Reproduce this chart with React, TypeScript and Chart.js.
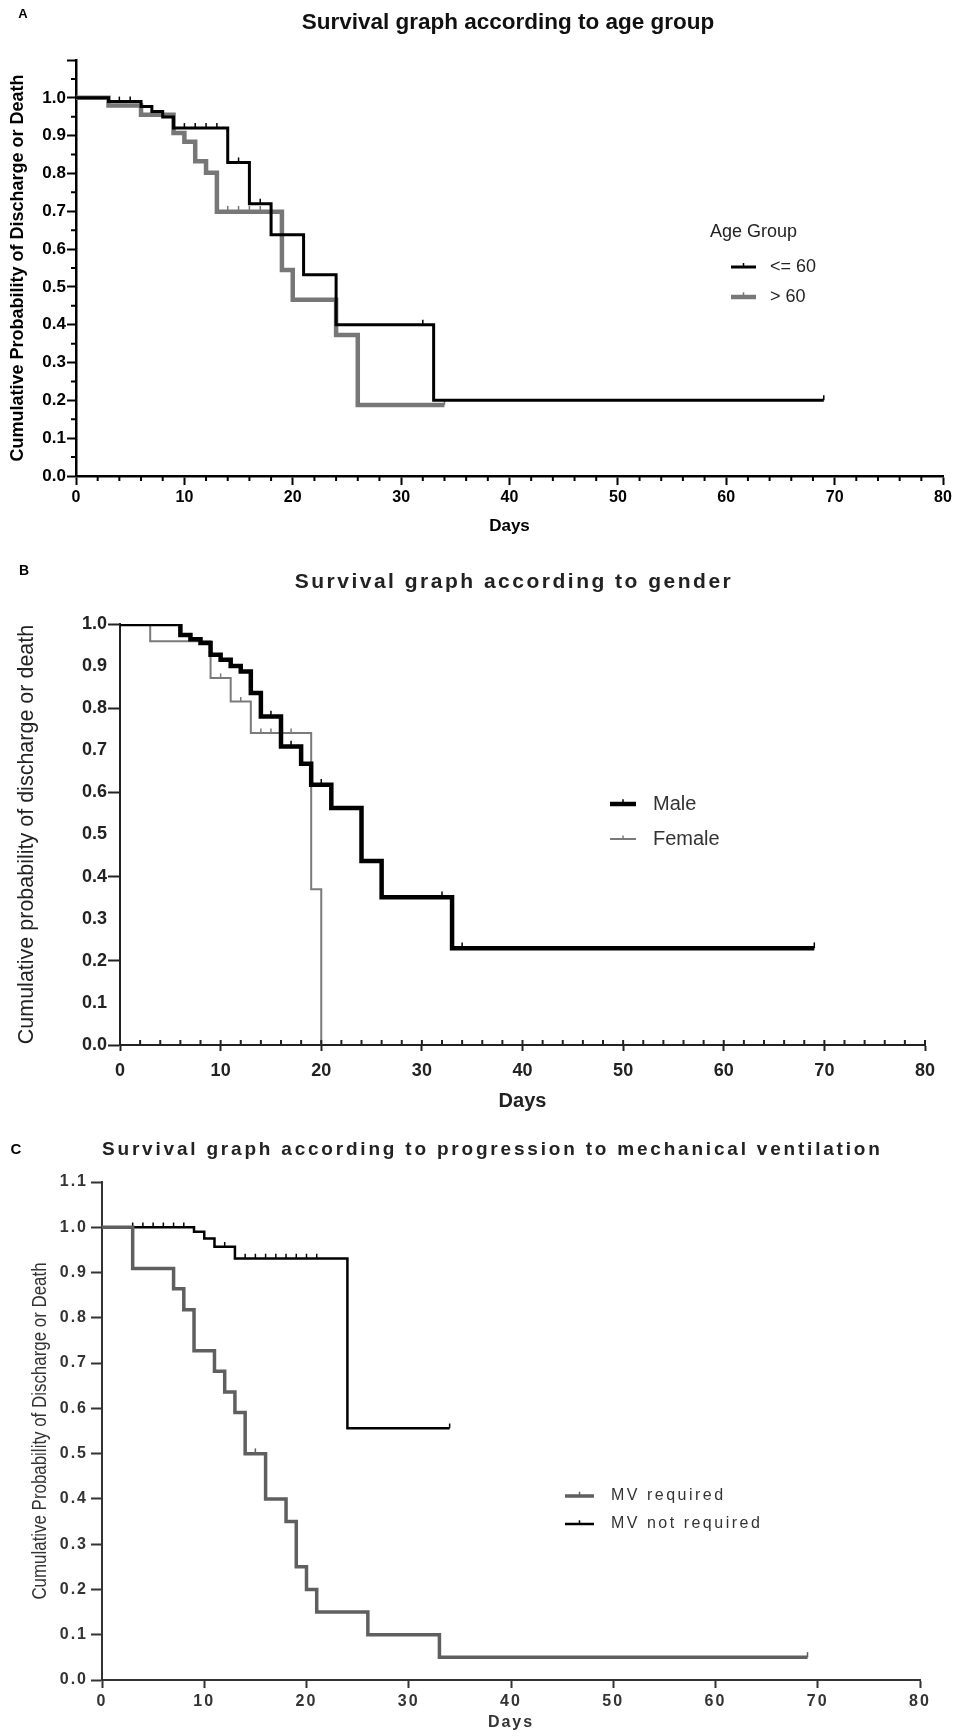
import React, { useEffect, useRef } from "react";
import { Chart, registerables } from "chart.js";

Chart.register(...registerables);

const FONT = "'Liberation Sans', Arial, Helvetica, sans-serif";

// ---------------- shared axis ticks ----------------
const dayTicks = [0, 10, 20, 30, 40, 50, 60, 70, 80];
const dayTickLabels = ["0", "10", "20", "30", "40", "50", "60", "70", "80"];

// ---------------- Panel A : age group ----------------
const ageLe60Days = [0, 3, 6, 7, 8, 9, 14, 16, 18, 21, 24, 33, 69];
const ageLe60Surv = [1.0, 0.99, 0.977, 0.964, 0.949, 0.92, 0.829, 0.72, 0.638, 0.532, 0.4, 0.2, 0.2];
const ageLe60Censored = [4, 5, 10, 11, 12, 13, 15, 17, 32, 69];

const ageGt60Days = [0, 3, 6, 9, 10, 11, 12, 13, 19, 20, 24, 26, 34];
const ageGt60Surv = [1.0, 0.98, 0.955, 0.907, 0.884, 0.832, 0.802, 0.699, 0.545, 0.466, 0.373, 0.188, 0.188];
const ageGt60Censored = [14, 15, 16, 17, 34];

const probTicksA = [0, 0.1, 0.2, 0.3, 0.4, 0.5, 0.6, 0.7, 0.8, 0.9, 1.0, 1.1];
const probLabelsA = ["0.0", "0.1", "0.2", "0.3", "0.4", "0.5", "0.6", "0.7", "0.8", "0.9", "1.0", ""];

// ---------------- Panel B : gender ----------------
const maleDays = [0, 6, 7, 8, 9, 10, 11, 12, 13, 14, 16, 18, 19, 21, 24, 26, 33, 69];
const maleSurv = [1.0, 0.974, 0.964, 0.955, 0.927, 0.915, 0.9, 0.887, 0.836, 0.78, 0.709, 0.668, 0.618, 0.563, 0.437, 0.351, 0.23, 0.23];
const maleCensored = [4, 5, 15, 17, 20, 32, 34, 69];

const femaleDays = [0, 3, 9, 11, 13, 19, 20];
const femaleSurv = [1.0, 0.959, 0.872, 0.816, 0.741, 0.37, 0.0];
const femaleCensored = [10, 12, 14, 15, 17];

const probTicksB = [0, 0.1, 0.2, 0.3, 0.4, 0.5, 0.6, 0.7, 0.8, 0.9, 1.0];
const probLabelsB = ["0.0", "0.1", "0.2", "0.3", "0.4", "0.5", "0.6", "0.7", "0.8", "0.9", "1.0"];

// ---------------- Panel C : mechanical ventilation ----------------
const mvReqDays = [0, 3, 7, 8, 9, 11, 12, 13, 14, 16, 18, 19, 20, 21, 26, 33, 69];
const mvReqSurv = [1.0, 0.909, 0.864, 0.818, 0.727, 0.682, 0.636, 0.591, 0.5, 0.4, 0.35, 0.25, 0.2, 0.15, 0.1, 0.05, 0.05];
const mvReqCensored = [15, 69];

const mvNotDays = [0, 9, 10, 11, 13, 24, 34];
const mvNotSurv = [1.0, 0.99, 0.975, 0.957, 0.931, 0.556, 0.556];
const mvNotCensored = [3, 4, 5, 6, 7, 8, 12, 14, 15, 16, 17, 18, 19, 20, 21, 34];

const probTicksC = [0, 0.1, 0.2, 0.3, 0.4, 0.5, 0.6, 0.7, 0.8, 0.9, 1.0, 1.1];
const probLabelsC = ["0.0", "0.1", "0.2", "0.3", "0.4", "0.5", "0.6", "0.7", "0.8", "0.9", "1.0", "1.1"];

// ---------------- helpers ----------------
function stepValueAt(days: number[], surv: number[], t: number): number {
  let v = surv[0];
  for (let i = 0; i < days.length; i++) if (days[i] <= t) v = surv[i];
  return v;
}

type Series = {
  label: string;
  days: number[];
  surv: number[];
  censored: number[];
  color: string;
  width: number;
  order: number;
};

type Txt = {
  text: string;
  x: number;
  y: number;
  size: number;
  bold?: boolean;
  color?: string;
  align?: CanvasTextAlign;
  rotate?: number;
  spacing?: number;
  squeeze?: number;
};

type LegendItem = { ds: number; x1: number; x2: number; tx: number; y: number; size: number; color: string; spacing?: number };

type Minor = { axis: "x" | "y"; values: number[]; len: number; width: number; color: string };

type AxisStyle = {
  font: number;
  color: string;
  padding: number;
  tickLength: number;
  tickWidth: number;
  tickColor: string | ((c: any) => string);
};

type PanelSpec = {
  top: number;
  height: number;
  padding: { left: number; right: number; top: number; bottom: number };
  yWidth: number;
  xHeight: number;
  yMax: number;
  yTicks: number[];
  yLabels: string[];
  series: Series[];
  xAxis: AxisStyle;
  yAxis: AxisStyle;
  border: { color: string; width: number };
  xTitle: { text: string; size: number; color: string; padBottom: number };
  yTitle?: { text: string; size: number; bold: boolean; color: string; padTop: number };
  texts: Txt[];
  legend: LegendItem[];
  minor: Minor[];
  tickSpacing: number;
};

function makeDecor(spec: PanelSpec) {
  return {
    id: "decor",
    beforeDraw(chart: any) {
      chart.ctx.letterSpacing = spec.tickSpacing + "px";
    },
    afterDraw(chart: any) {
      const ctx: CanvasRenderingContext2D = chart.ctx;
      ctx.save();
      (ctx as any).letterSpacing = "0px";
      for (const m of spec.minor) {
        const sc = chart.scales[m.axis];
        ctx.strokeStyle = m.color;
        ctx.lineWidth = m.width;
        ctx.beginPath();
        for (const v of m.values) {
          const p = sc.getPixelForValue(v);
          if (m.axis === "x") {
            ctx.moveTo(p, sc.top);
            ctx.lineTo(p, sc.top + m.len);
          } else {
            ctx.moveTo(sc.right, p);
            ctx.lineTo(sc.right - m.len, p);
          }
        }
        ctx.stroke();
      }
      const drawText = (t: Txt) => {
        ctx.save();
        ctx.translate(t.x, t.y);
        if (t.rotate) ctx.rotate(t.rotate);
        if (t.squeeze) ctx.scale(t.squeeze, 1);
        ctx.font = `${t.bold ? "bold " : ""}${t.size}px ${FONT}`;
        ctx.fillStyle = t.color || "#000";
        ctx.textAlign = t.align || "left";
        ctx.textBaseline = "middle";
        (ctx as any).letterSpacing = (t.spacing || 0) + "px";
        ctx.fillText(t.text, 0, 0);
        ctx.restore();
      };
      spec.texts.forEach(drawText);
      for (const it of spec.legend) {
        const ds = chart.data.datasets[it.ds];
        ctx.strokeStyle = ds.borderColor;
        ctx.lineWidth = ds.borderWidth;
        ctx.lineCap = "butt";
        ctx.beginPath();
        ctx.moveTo(it.x1, it.y);
        ctx.lineTo(it.x2, it.y);
        ctx.stroke();
        const mx = (it.x1 + it.x2) / 2;
        ctx.lineWidth = 1.5;
        ctx.beginPath();
        ctx.moveTo(mx, it.y);
        ctx.lineTo(mx, it.y - ds.borderWidth / 2 - 2.5);
        ctx.stroke();
        drawText({ text: ds.label, x: it.tx, y: it.y, size: it.size, color: it.color, spacing: it.spacing });
      }
      ctx.restore();
      (ctx as any).letterSpacing = "0px";
    },
  };
}

function buildConfig(spec: PanelSpec): any {
  const datasets: any[] = [];
  spec.series.forEach((s) => {
    datasets.push({
      type: "line",
      label: s.label,
      data: s.days.map((d, k) => ({ x: d, y: s.surv[k] })),
      borderColor: s.color,
      borderWidth: s.width,
      stepped: true,
      pointRadius: 0,
      fill: false,
      order: s.order,
      borderCapStyle: "butt",
      borderJoinStyle: "miter",
    });
  });
  spec.series.forEach((s) => {
    datasets.push({
      type: "line",
      label: s.label + " (censored)",
      data: s.censored.map((t) => ({ x: t, y: stepValueAt(s.days, s.surv, t) })),
      showLine: false,
      pointStyle: "dash",
      pointRotation: -90,
      pointRadius: s.width / 2 + 3.5,
      pointBorderWidth: 1.5,
      pointBorderColor: s.color,
      pointBackgroundColor: s.color,
      order: s.order,
    });
  });

  const yScale: any = {
    type: "linear",
    min: 0,
    max: spec.yMax,
    afterBuildTicks: (sc: any) => {
      sc.ticks = spec.yTicks.map((v) => ({ value: v }));
    },
    afterFit: (sc: any) => {
      sc.width = spec.yWidth;
    },
    ticks: {
      callback: (_v: any, i: number) => spec.yLabels[i],
      font: { family: FONT, size: spec.yAxis.font, weight: "bold" },
      color: spec.yAxis.color,
      padding: spec.yAxis.padding,
      autoSkip: false,
    },
    grid: {
      drawOnChartArea: false,
      drawTicks: true,
      tickLength: spec.yAxis.tickLength,
      tickWidth: spec.yAxis.tickWidth,
      tickColor: spec.yAxis.tickColor,
    },
    border: { display: true, color: spec.border.color, width: spec.border.width },
  };
  if (spec.yTitle) {
    yScale.title = {
      display: true,
      text: spec.yTitle.text,
      color: spec.yTitle.color,
      font: { family: FONT, size: spec.yTitle.size, weight: spec.yTitle.bold ? "bold" : "normal", lineHeight: 1.2 },
      padding: { top: spec.yTitle.padTop, bottom: 0 },
    };
  }

  return {
    type: "line",
    data: { datasets },
    options: {
      animation: false,
      responsive: true,
      maintainAspectRatio: false,
      events: [],
      layout: { padding: spec.padding },
      plugins: { legend: { display: false }, tooltip: { enabled: false }, title: { display: false } },
      scales: {
        x: {
          type: "linear",
          min: 0,
          max: 80,
          afterBuildTicks: (sc: any) => {
            sc.ticks = dayTicks.map((v) => ({ value: v }));
          },
          afterFit: (sc: any) => {
            sc.height = spec.xHeight;
          },
          ticks: {
            callback: (_v: any, i: number) => dayTickLabels[i],
            font: { family: FONT, size: spec.xAxis.font, weight: "bold" },
            color: spec.xAxis.color,
            padding: spec.xAxis.padding,
            maxRotation: 0,
            autoSkip: false,
          },
          grid: {
            drawOnChartArea: false,
            drawTicks: true,
            tickLength: spec.xAxis.tickLength,
            tickWidth: spec.xAxis.tickWidth,
            tickColor: spec.xAxis.tickColor,
          },
          border: { display: true, color: spec.border.color, width: spec.border.width },
          title: {
            display: true,
            text: spec.xTitle.text,
            color: spec.xTitle.color,
            font: { family: FONT, size: spec.xTitle.size, weight: "bold", lineHeight: 1.2 },
            padding: { top: 0, bottom: spec.xTitle.padBottom },
          },
        },
        y: yScale,
      },
    },
    plugins: [makeDecor(spec)],
  };
}

const evens = (from: number, to: number, skipTens: boolean) => {
  const out: number[] = [];
  for (let v = from; v <= to; v += 2) if (!skipTens || v % 10 !== 0) out.push(v);
  return out;
};

// ---------------- panel specs ----------------
const specA: PanelSpec = {
  top: 0,
  height: 540,
  padding: { left: 0, right: 12, top: 60, bottom: 0 },
  yWidth: 76,
  xHeight: 64,
  yMax: 1.1,
  yTicks: probTicksA,
  yLabels: probLabelsA,
  series: [
    { label: "<= 60", days: ageLe60Days, surv: ageLe60Surv, censored: ageLe60Censored, color: "#000000", width: 3, order: 0 },
    { label: "> 60", days: ageGt60Days, surv: ageGt60Surv, censored: ageGt60Censored, color: "#777777", width: 4.5, order: 1 },
  ],
  xAxis: { font: 16, color: "#000", padding: 3, tickLength: 9, tickWidth: 2, tickColor: "#000" },
  yAxis: { font: 17, color: "#000", padding: 1, tickLength: 9, tickWidth: 2, tickColor: "#000" },
  border: { color: "#000", width: 2.5 },
  xTitle: { text: "Days", size: 17, color: "#000", padBottom: 3 },
  yTitle: { text: "Cumulative Probability of Discharge or Death", size: 18, bold: true, color: "#000", padTop: 7 },
  texts: [
    { text: "A", x: 23, y: 14, size: 13, bold: true, align: "center" },
    { text: "Survival graph according to age group", x: 508, y: 23, size: 22.5, bold: true, align: "center", color: "#111" },
    { text: "Age Group", x: 710, y: 232, size: 18, color: "#222" },
  ],
  legend: [
    { ds: 0, x1: 731, x2: 756, tx: 770, y: 267, size: 18, color: "#222" },
    { ds: 1, x1: 731, x2: 756, tx: 770, y: 297, size: 18, color: "#222" },
  ],
  minor: [
    { axis: "x", values: evens(2, 78, true), len: 5, width: 2, color: "#000" },
    { axis: "y", values: [0.05, 0.15, 0.25, 0.35, 0.45, 0.55, 0.65, 0.75, 0.85, 0.95, 1.05], len: 5, width: 2, color: "#000" },
  ],
  tickSpacing: 0,
};

const specB: PanelSpec = {
  top: 540,
  height: 575,
  padding: { left: 0, right: 30, top: 84, bottom: 0 },
  yWidth: 120,
  xHeight: 70,
  yMax: 1.0,
  yTicks: probTicksB,
  yLabels: probLabelsB,
  series: [
    { label: "Male", days: maleDays, surv: maleSurv, censored: maleCensored, color: "#000000", width: 4.5, order: 0 },
    { label: "Female", days: femaleDays, surv: femaleSurv, censored: femaleCensored, color: "#7a7a7a", width: 2, order: 1 },
  ],
  xAxis: { font: 18, color: "#222", padding: 9, tickLength: 6, tickWidth: 2, tickColor: "#222" },
  yAxis: {
    font: 18,
    color: "#222",
    padding: 1,
    tickLength: 12,
    tickWidth: 2,
    tickColor: (c: any) => (c.index % 2 === 0 ? "#222" : "rgba(0,0,0,0)"),
  },
  border: { color: "#222", width: 2 },
  xTitle: { text: "Days", size: 20, color: "#222", padBottom: 2 },
  yTitle: { text: "Cumulative probability of discharge or death", size: 21.5, bold: false, color: "#222", padTop: 14 },
  texts: [
    { text: "B", x: 24, y: 31, size: 14, bold: true, align: "center" },
    { text: "Survival graph according to gender", x: 514, y: 42, size: 21, bold: true, align: "center", color: "#222", spacing: 2.5 },
  ],
  legend: [
    { ds: 0, x1: 610, x2: 636, tx: 653, y: 264, size: 20, color: "#333" },
    { ds: 1, x1: 610, x2: 636, tx: 653, y: 299, size: 20, color: "#333" },
  ],
  minor: [{ axis: "x", values: evens(2, 80, false), len: -5, width: 2, color: "#222" }],
  tickSpacing: 0,
};

const specC: PanelSpec = {
  top: 1115,
  height: 621,
  padding: { left: 0, right: 35, top: 67, bottom: 0 },
  yWidth: 102,
  xHeight: 56,
  yMax: 1.1,
  yTicks: probTicksC,
  yLabels: probLabelsC,
  series: [
    { label: "MV required", days: mvReqDays, surv: mvReqSurv, censored: mvReqCensored, color: "#5f5f5f", width: 3.5, order: 0 },
    { label: "MV not required", days: mvNotDays, surv: mvNotSurv, censored: mvNotCensored, color: "#000000", width: 2.5, order: 1 },
  ],
  xAxis: { font: 16, color: "#333", padding: 4, tickLength: 8, tickWidth: 2, tickColor: "#333" },
  yAxis: { font: 16, color: "#333", padding: 3, tickLength: 11, tickWidth: 2, tickColor: "#333" },
  border: { color: "#333", width: 2 },
  xTitle: { text: "Days", size: 16, color: "#333", padBottom: 4 },
  texts: [
    { text: "C", x: 16, y: 35, size: 15, bold: true, align: "center" },
    { text: "Survival graph according to progression to mechanical ventilation", x: 102, y: 35, size: 19, bold: true, color: "#222", spacing: 2.8 },
    {
      text: "Cumulative Probability of Discharge or Death",
      x: 40,
      y: 316,
      size: 20,
      color: "#333",
      align: "center",
      rotate: -Math.PI / 2,
      squeeze: 0.845,
    },
  ],
  legend: [
    { ds: 0, x1: 565, x2: 594, tx: 611, y: 381, size: 16, color: "#333", spacing: 2.5 },
    { ds: 1, x1: 565, x2: 594, tx: 611, y: 409, size: 16, color: "#333", spacing: 2.5 },
  ],
  minor: [],
  tickSpacing: 2,
};

function KMPanel({ spec }: { spec: PanelSpec }) {
  const ref = useRef<HTMLCanvasElement>(null);
  useEffect(() => {
    if (!ref.current) return;
    const chart = new Chart(ref.current, buildConfig(spec));
    return () => chart.destroy();
  }, [spec]);
  return (
    <div style={{ position: "absolute", left: 0, top: spec.top, width: 955, height: spec.height }}>
      <canvas ref={ref} />
    </div>
  );
}

export default function App() {
  return (
    <div style={{ position: "absolute", left: 0, top: 0, width: 955, height: 1736, background: "#fff", overflow: "hidden" }}>
      <KMPanel spec={specA} />
      <KMPanel spec={specB} />
      <KMPanel spec={specC} />
    </div>
  );
}
